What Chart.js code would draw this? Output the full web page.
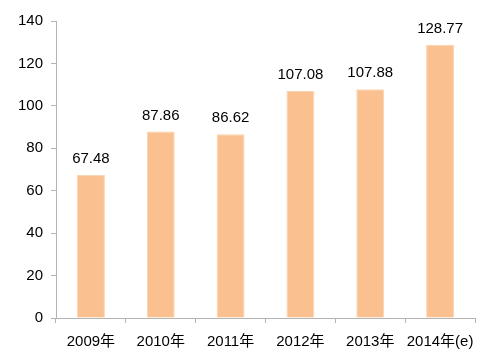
<!DOCTYPE html>
<html>
<head>
<meta charset="utf-8">
<script src="https://cdn.jsdelivr.net/npm/chart.js@4.4.0/dist/chart.umd.min.js"></script>
<style>
    html, body { margin: 0; padding: 0; background: #fff; }
    #wrap { width: 488px; height: 363px; }
</style>
</head>
<body>
<div id="wrap"><canvas id="mainChart" width="488" height="363"></canvas></div>
<script>
const categories = ['2009年', '2010年', '2011年', '2012年', '2013年', '2014年(e)'];
const values = [67.48, 87.86, 86.62, 107.08, 107.88, 128.77];
const yTicks = [0, 20, 40, 60, 80, 100, 120, 140];

const fontFamily = '"Liberation Sans", Arial, "Noto Sans CJK SC", sans-serif';

// draws the value above each bar
const barLabels = {
    id: 'barLabels',
    afterDatasetsDraw(chart) {
        const ctx = chart.ctx;
        const meta = chart.getDatasetMeta(0);
        ctx.save();
        ctx.font = '15px ' + fontFamily;
        ctx.fillStyle = '#000';
        ctx.textAlign = 'center';
        ctx.textBaseline = 'alphabetic';
        meta.data.forEach((bar, i) => {
            ctx.fillText(values[i].toFixed(2), bar.x, bar.y - 12);
        });
        ctx.restore();
    },
};

let ctx = document.getElementById('mainChart');
let config = {
    type: 'bar',
    data: {
        labels: categories,
        datasets: [
            {
                data: values,
                backgroundColor: '#fac090',
                borderColor: '#fcd3b0',
                borderWidth: { left: 1, right: 1, top: 1, bottom: 0 },
                categoryPercentage: 1,
                barPercentage: 0.4,
            },
        ],
    },
    options: {
        responsive: false,
        animation: false,
        layout: {
            padding: { top: 21, right: 13, left: 0, bottom: 0 },
        },
        plugins: {
            legend: { display: false },
            tooltip: { enabled: false },
        },
        scales: {
            x: {
                grid: {
                    drawOnChartArea: false,
                    drawTicks: true,
                    tickLength: 5,
                    color: '#b3b3b3',
                },
                border: { color: '#b3b3b3', width: 1 },
                ticks: {
                    color: '#000',
                    padding: 10,
                    font: { size: 15, family: fontFamily },
                    maxRotation: 0,
                },
                afterFit: function (scale) {
                    scale.height = 45;
                },
            },
            y: {
                min: 0,
                max: 140,
                afterBuildTicks: function (scale) {
                    scale.ticks = yTicks.map((v) => ({ value: v }));
                },
                grid: {
                    drawOnChartArea: false,
                    drawTicks: true,
                    tickLength: 5,
                    color: '#b3b3b3',
                },
                border: { color: '#b3b3b3', width: 1 },
                ticks: {
                    color: '#000',
                    padding: 8,
                    font: { size: 15, family: fontFamily },
                },
                afterFit: function (scale) {
                    scale.width = 56;
                },
            },
        },
    },
    plugins: [barLabels],
};

let mainChart = new Chart(ctx, config);
</script>
</body>
</html>
